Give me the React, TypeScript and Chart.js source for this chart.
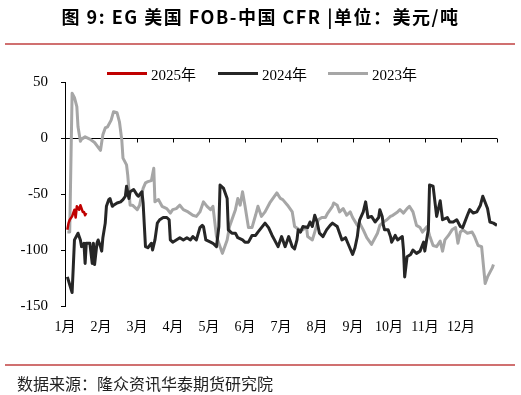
import React, { useEffect, useRef } from "react";
import { Chart, registerables } from "chart.js";

Chart.register(...registerables);

const monthLabels = ["1月", "2月", "3月", "4月", "5月", "6月", "7月", "8月", "9月", "10月", "11月", "12月"];
const yTicks = [50, 0, -50, -100, -150];

const seriesNames = ["2025年", "2024年", "2023年"];
const seriesColors = ["#c00000", "#262626", "#a6a6a6"];

// day of year
const days2025 = [2, 3, 4, 6, 7, 8, 9, 10, 12, 13, 15, 16, 17, 18];
const vals2025 = [-82, -76, -73, -70, -67, -64, -71, -61, -64, -60, -66, -66, -69, -67];

const days2024 = [2, 4, 6, 7, 8, 10, 11, 13, 14, 16, 17, 18, 21, 23, 24, 25, 27, 28, 30, 31, 32, 34, 35, 37, 38, 40, 41, 44, 47, 49, 51, 52, 54, 55, 58, 61, 62, 65, 66, 68, 70, 73, 74, 76, 78, 80, 83, 86, 88, 89, 91, 94, 97, 100, 103, 106, 108, 111, 114, 116, 117, 119, 123, 125, 128, 130, 131, 134, 137, 138, 141, 144, 146, 150, 152, 155, 158, 161, 163, 166, 169, 172, 175, 177, 180, 183, 186, 189, 192, 194, 196, 197, 199, 201, 205, 207, 209, 211, 213, 215, 218, 221, 224, 226, 230, 232, 234, 237, 239, 243, 245, 247, 248, 249, 252, 254, 256, 259, 262, 265, 266, 268, 269, 270, 273, 275, 276, 279, 281, 285, 286, 287, 289, 292, 294, 297, 300, 303, 304, 306, 307, 308, 311, 314, 317, 319, 323, 325, 328, 331, 334, 336, 340, 342, 345, 348, 351, 353, 357, 359, 362, 365];
const vals2024 = [-124, -131, -138, -115, -91, -87, -85, -91, -97, -94, -112, -94, -94, -112, -94, -113, -94, -91, -97, -101, -89, -76, -61, -55, -54, -61, -60, -58, -57, -55, -52, -43, -54, -48, -46, -51, -52, -48, -58, -97, -98, -94, -100, -91, -76, -73, -71, -71, -73, -91, -93, -91, -89, -91, -89, -91, -88, -91, -80, -78, -79, -91, -93, -94, -97, -79, -42, -45, -54, -82, -85, -85, -89, -91, -93, -93, -87, -87, -84, -80, -76, -80, -87, -91, -97, -88, -97, -88, -97, -99, -91, -82, -84, -79, -80, -75, -79, -69, -75, -85, -88, -82, -78, -76, -79, -85, -91, -89, -94, -104, -98, -88, -79, -73, -66, -57, -71, -70, -75, -71, -64, -70, -78, -82, -82, -88, -93, -87, -91, -88, -100, -124, -106, -104, -100, -103, -101, -93, -101, -88, -82, -42, -43, -70, -56, -73, -71, -75, -75, -73, -79, -80, -69, -64, -67, -66, -60, -52, -63, -75, -76, -78];

const days2023 = [2, 4, 6, 8, 10, 11, 13, 14, 17, 21, 25, 30, 32, 34, 36, 39, 41, 44, 46, 48, 49, 52, 53, 55, 57, 61, 63, 66, 68, 70, 73, 75, 76, 79, 82, 86, 89, 91, 94, 97, 100, 104, 108, 111, 114, 117, 120, 123, 125, 128, 131, 133, 137, 139, 144, 146, 148, 150, 152, 155, 158, 161, 163, 166, 169, 173, 179, 182, 184, 188, 192, 194, 198, 201, 204, 205, 209, 211, 214, 217, 220, 222, 226, 227, 230, 232, 235, 238, 241, 243, 247, 249, 252, 255, 259, 264, 266, 269, 272, 275, 277, 281, 283, 286, 289, 291, 294, 297, 300, 302, 306, 308, 311, 314, 317, 319, 321, 324, 327, 330, 332, 334, 336, 340, 344, 346, 349, 352, 355, 357, 361, 362];
const vals2023 = [-84, -84, 40, 36, 28, 10, -3, -1, 1, -1, -4, -11, 3, 9, 10, 16, 23.5, 22.5, 14.5, -2, -18, -24, -33, -60, -60, -64, -60, -45, -40, -39, -38, -27, -57, -55, -61, -63, -67, -64, -63, -60, -64, -66, -69, -70, -66, -57, -61, -64, -61, -88, -97, -103, -91, -79, -64, -54, -60, -48, -60, -80, -80, -69, -61, -70, -66, -58, -49, -54, -55, -60, -66, -79, -82, -82, -79, -88, -91, -84, -73, -71, -71, -67, -61, -58, -60, -66, -63, -69, -66, -71, -78, -76, -82, -89, -95, -85, -78, -75, -73, -70, -69, -66, -64, -67, -63, -61, -66, -78, -80, -84, -79, -87, -96, -97, -92, -101, -91, -87, -82, -80, -94, -84, -82, -85, -84, -88, -96, -97, -130, -124, -116, -113];

const toPoints = (d: number[], v: number[]) => d.map((x, i) => ({ x, y: v[i] }));

const TICK_FONT = "'Liberation Serif', 'Times New Roman', 'Noto Sans CJK SC', serif";

const zeroAxis = {
  id: "zeroAxis",
  beforeDatasetsDraw(chart: any) {
    const { ctx, chartArea, scales } = chart;
    const x = scales.x;
    const y = scales.y;
    const y0 = Math.round(y.getPixelForValue(0)) + 0.5;
    ctx.save();
    ctx.strokeStyle = "#000";
    ctx.lineWidth = 1;
    ctx.beginPath();
    ctx.moveTo(chartArea.left, y0);
    ctx.lineTo(chartArea.right, y0);
    x.ticks.forEach((t: any) => {
      const px = Math.round(x.getPixelForValue(t.value)) + 0.5;
      ctx.moveTo(px, y0);
      ctx.lineTo(px, y0 + 4);
    });
    ctx.stroke();
    ctx.restore();
  },
};

export default function App() {
  const ref = useRef<HTMLCanvasElement>(null);

  useEffect(() => {
    if (!ref.current) return;
    const chart = new Chart(ref.current, {
      type: "line",
      data: {
        datasets: [
          { label: seriesNames[0], data: toPoints(days2025, vals2025), borderColor: seriesColors[0], borderWidth: 2.5 },
          { label: seriesNames[1], data: toPoints(days2024, vals2024), borderColor: seriesColors[1], borderWidth: 3 },
          { label: seriesNames[2], data: toPoints(days2023, vals2023), borderColor: seriesColors[2], borderWidth: 3 },
        ].map((d) => ({ ...d, pointRadius: 0, tension: 0, fill: false, borderJoinStyle: "round" as const })),
      },
      options: {
        responsive: false,
        animation: false,
        layout: { padding: { left: 0, right: 24, top: 82, bottom: 0 } },
        plugins: { legend: { display: false }, title: { display: false }, tooltip: { enabled: false } },
        scales: {
          x: {
            type: "linear",
            min: 0,
            max: 365,
            afterBuildTicks: (scale: any) => {
              scale.ticks = Array.from({ length: 13 }, (_, i) => ({ value: (i * 365) / 12 }));
            },
            afterFit: (scale: any) => {
              scale.height = 89;
            },
            grid: { display: false, drawTicks: false },
            border: { display: false },
            ticks: {
              autoSkip: false,
              maxRotation: 0,
              padding: 13,
              color: "#000",
              font: { family: TICK_FONT, size: 14 },
              callback: (_v: any, i: number) => (i < 12 ? monthLabels[i] : ""),
            },
          },
          y: {
            min: -150,
            max: 50,
            afterBuildTicks: (scale: any) => {
              scale.ticks = yTicks.map((v) => ({ value: v }));
            },
            afterFit: (scale: any) => {
              scale.width = 65;
            },
            grid: { drawOnChartArea: false, drawTicks: true, tickLength: 4, color: "#000" },
            border: { display: true, color: "#000", width: 1 },
            ticks: {
              padding: 13,
              color: "#000",
              font: { family: TICK_FONT, size: 15 },
            },
          },
        },
      },
      plugins: [zeroAxis],
    });
    return () => chart.destroy();
  }, []);

  const legendX = [107, 218, 328];

  return (
    <div style={{ position: "absolute", left: 0, top: 0, width: 521, height: 395, background: "#fff", overflow: "hidden" }}>
      <canvas ref={ref} width={521} height={395} style={{ position: "absolute", left: 0, top: 0, width: 521, height: 395 }} />
      <div
        style={{
          position: "absolute",
          left: 0,
          top: 4,
          width: 521,
          textAlign: "center",
          fontFamily: "'Noto Sans CJK SC', sans-serif",
          fontWeight: 700,
          fontSize: 18,
          letterSpacing: "1.5px",
          lineHeight: "24px",
          color: "#000",
          whiteSpace: "pre",
        }}
      >
        {"图 9: EG 美国 FOB-中国 CFR |单位：美元/吨"}
      </div>
      <div style={{ position: "absolute", left: 5, top: 43, width: 510, height: 2, background: "#d07070" }} />
      {seriesNames.map((name, i) => (
        <div key={name} style={{ position: "absolute", left: legendX[i], top: 63, height: 20, display: "flex", alignItems: "center", whiteSpace: "nowrap" }}>
          <span style={{ display: "inline-block", width: 40, height: 3, background: seriesColors[i], marginRight: 4 }} />
          <span style={{ fontFamily: TICK_FONT, fontSize: 15, color: "#000" }}>{name}</span>
        </div>
      ))}
      <div style={{ position: "absolute", left: 5, top: 364, width: 510, height: 2, background: "#d07070" }} />
      <div
        style={{
          position: "absolute",
          left: 17,
          top: 372,
          fontFamily: "'Noto Sans CJK SC', sans-serif",
          fontSize: 16,
          lineHeight: "22px",
          color: "#222",
          whiteSpace: "nowrap",
        }}
      >
        数据来源：隆众资讯华泰期货研究院
      </div>
    </div>
  );
}
